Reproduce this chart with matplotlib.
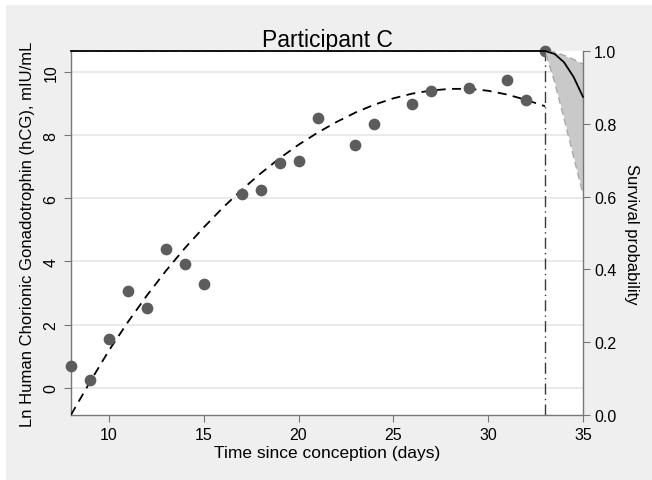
import numpy as np
import matplotlib
matplotlib.use("Agg")
import matplotlib.pyplot as plt
from matplotlib.patches import Rectangle

plt.rcParams['font.family'] = ['Liberation Sans', 'DejaVu Sans']

# observed ln(hCG) by day since conception
days = [8, 9, 10, 11, 12, 13, 14, 15, 17, 18, 19, 20, 21, 23, 24, 26, 27, 29, 31, 32, 33]
ln_hcg = [0.70, 0.25, 1.54, 3.05, 2.54, 4.38, 3.92, 3.29, 6.14, 6.27, 7.12, 7.18,
          8.54, 7.69, 8.35, 8.98, 9.41, 9.49, 9.76, 9.11, 10.67]

# fitted trajectory
fit_days = list(range(8, 34))
fit_vals = [-0.86, 0.18, 1.18, 2.08, 2.92, 3.70, 4.42, 5.08, 5.70, 6.27, 6.79, 7.27, 7.70,
            8.08, 8.42, 8.72, 8.97, 9.17, 9.32, 9.42, 9.47, 9.47, 9.41, 9.29, 9.12, 8.92]

# survival curve and confidence band
surv_days = [8, 33, 33.5, 34, 34.5, 35]
surv = [1.0, 1.0, 0.992, 0.969, 0.929, 0.874]
surv_hi = [1.0, 1.0, 0.997, 0.988, 0.977, 0.964]
surv_lo = [1.0, 1.0, 0.915, 0.815, 0.710, 0.607]

event_day = 33

fig = plt.figure(figsize=(6.52, 4.81), dpi=100, facecolor='white')
fig.patches.append(Rectangle((6 / 652, 0), 1, 1 - 6 / 481, transform=fig.transFigure,
                             facecolor='#efefef', edgecolor='none', zorder=-10))

ax = fig.add_axes([71 / 652, 1 - 416 / 481, 512 / 652, 364 / 481])
ax.set_facecolor('white')

ax.axvline(event_day, color='#3a3a3a', lw=1.0, ls=(0, (8, 3, 1, 3)), zorder=2)
ax.plot(fit_days, fit_vals, color='black', lw=1.3, ls=(0, (5, 3.5)), zorder=3)
ax.scatter(days, ln_hcg, s=55, color='#5c5c5c', zorder=4, clip_on=False)

ax.set_xlim(8, 35)
ax.set_ylim(-0.865, 10.67)
ax.set_xticks([10, 15, 20, 25, 30, 35])
ax.set_yticks([0, 2, 4, 6, 8, 10])
ax.grid(axis='y', color='#e8e8e8', lw=1.3)
ax.set_axisbelow(True)

ax2 = ax.twinx()
ax2.fill_between(surv_days, surv_lo, surv_hi, color='#c9c9c9', lw=0, zorder=1)
ax2.plot(surv_days, surv_hi, color='#a8a8a8', lw=1.0, ls=(0, (5, 3)), zorder=2)
ax2.plot(surv_days, surv_lo, color='#a8a8a8', lw=1.0, ls=(0, (5, 3)), zorder=2)
ax2.plot(surv_days, surv, color='black', lw=1.3, zorder=3, clip_on=False)
ax2.set_ylim(0, 1)
ax2.set_yticks([0.0, 0.2, 0.4, 0.6, 0.8, 1.0])
ax2.set_yticklabels(['%.1f' % v for v in ax2.get_yticks()])

for a in (ax, ax2):
    a.spines['top'].set_visible(False)
    for s in ('left', 'right', 'bottom'):
        a.spines[s].set_color('#777777')
        a.spines[s].set_linewidth(1.0)
ax.spines['right'].set_visible(False)
ax2.spines['left'].set_visible(False)
ax2.spines['bottom'].set_visible(False)

ax.tick_params(axis='x', length=5, color='#777777', labelsize=11.5, pad=4)
ax.tick_params(axis='y', length=5, color='#777777', labelsize=11.5, pad=4, labelrotation=90)
for lab in ax.get_yticklabels():
    lab.set_va('center')
ax2.tick_params(axis='y', length=5, color='#777777', labelsize=11.5, pad=3)

ax.set_title('Participant C', fontsize=16.5, pad=3)
ax.set_xlabel('Time since conception (days)', fontsize=12.5, labelpad=2)
ax.set_ylabel('Ln Human Chorionic Gonadotrophin (hCG), mIU/mL', fontsize=12, labelpad=6)
ax2.set_ylabel('Survival probability', fontsize=12, rotation=270, labelpad=16)

fig.savefig('out.png', dpi=100, facecolor=fig.get_facecolor())
